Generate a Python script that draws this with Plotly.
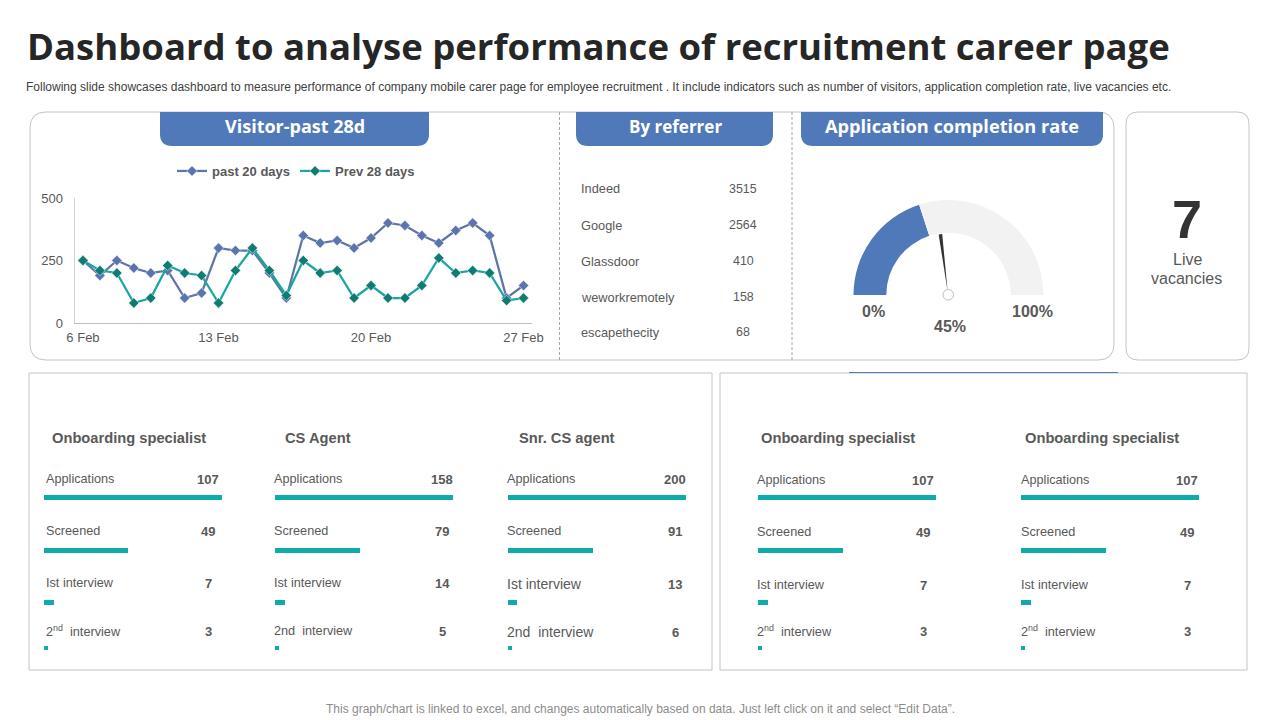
import plotly.graph_objects as go

# line chart data
day_index = list(range(27))
tick_index = [0, 8, 17, 26]
tick_labels = ["6 Feb", "13 Feb", "20 Feb", "27 Feb"]
past_days = [250, 190, 250, 220, 200, 210, 100, 120, 300, 290, 290, 200, 100, 350,
             320, 330, 300, 340, 400, 390, 350, 320, 370, 400, 350, 100, 150]
prev_days = [250, 210, 200, 80, 100, 230, 200, 190, 80, 210, 300, 210, 110, 250,
             200, 210, 100, 150, 100, 100, 150, 260, 200, 210, 200, 90, 100]

# referrers
referrers = ["Indeed", "Google", "Glassdoor", "weworkremotely", "escapethecity"]
referrer_counts = ["3515", "2564", "410", "158", "68"]

# gauge
gauge_fill = 40
gauge_needle = 45

# recruitment cards
card_titles = ["Onboarding specialist", "CS Agent", "Snr. CS agent",
               "Onboarding specialist", "Onboarding specialist"]
stage_labels = [
    ["Applications", "Screened", "Ist interview", "2<sup>nd</sup>  interview"],
    ["Applications", "Screened", "Ist interview", "2nd  interview"],
    ["Applications", "Screened", "Ist interview", "2nd  interview"],
    ["Applications", "Screened", "Ist interview", "2<sup>nd</sup>  interview"],
    ["Applications", "Screened", "Ist interview", "2<sup>nd</sup>  interview"],
]
stage_counts = [
    [107, 49, 7, 3],
    [158, 79, 14, 5],
    [200, 91, 13, 6],
    [107, 49, 7, 3],
    [107, 49, 7, 3],
]
# bar lengths as drawn in the picture, % of the Applications bar
bar_lengths = [
    [100, 47, 5.5, 2.2],
    [100, 47.5, 5.5, 2.5],
    [100, 47.5, 5, 2.5],
    [100, 47.5, 5.5, 2.2],
    [100, 47.5, 5.5, 2.2],
]

W, H = 1280, 720
FONT = "Liberation Sans"
GREY = "#595959"
BLUE = "#4F79B8"
TEAL = "#0FABAA"
BORDER = "#C4C4C4"


def px(x):
    return x / W


def py(y):
    return 1 - y / H


def pt(x, y):
    return f"{px(x):.5f},{py(y):.5f}"


def rounded_box(x0, y0, x1, y1, r):
    return (f"M{pt(x0 + r, y0)} L{pt(x1 - r, y0)} Q{pt(x1, y0)} {pt(x1, y0 + r)} "
            f"L{pt(x1, y1 - r)} Q{pt(x1, y1)} {pt(x1 - r, y1)} L{pt(x0 + r, y1)} "
            f"Q{pt(x0, y1)} {pt(x0, y1 - r)} L{pt(x0, y0 + r)} Q{pt(x0, y0)} {pt(x0 + r, y0)} Z")


def tab(x0, y0, x1, y1, r):
    return (f"M{pt(x0, y0)} L{pt(x1, y0)} L{pt(x1, y1 - r)} Q{pt(x1, y1)} {pt(x1 - r, y1)} "
            f"L{pt(x0 + r, y1)} Q{pt(x0, y1)} {pt(x0, y1 - r)} Z")


def label(x, y, text, size=12, color=GREY, bold=False, anchor="left", font=FONT):
    annotations.append(dict(
        x=px(x), y=py(y), xref="paper", yref="paper", text=f"<b>{text}</b>" if bold else text,
        showarrow=False, xanchor=anchor, yanchor="middle", align="center",
        borderpad=0, font=dict(family=font, size=size, color=color),
    ))


annotations = []
shapes = []
fig = go.Figure()

# panels
for box in [(30, 112, 1114, 360, 16), (1126, 112, 1249, 360, 12)]:
    shapes.append(dict(type="path", path=rounded_box(*box), xref="paper", yref="paper",
                       line=dict(color=BORDER, width=1), layer="below"))
for box in [(29, 373, 712, 670), (720, 373, 1247, 670)]:
    shapes.append(dict(type="rect", x0=px(box[0]), y0=py(box[1]), x1=px(box[2]), y1=py(box[3]),
                       xref="paper", yref="paper", line=dict(color=BORDER, width=1), layer="below"))
for x in [559.5, 792]:
    shapes.append(dict(type="line", x0=px(x), x1=px(x), y0=py(112), y1=py(360), xref="paper", yref="paper",
                       line=dict(color="#A6A6A6", width=1, dash="3px,2px"), layer="below"))
shapes.append(dict(type="line", x0=px(849), x1=px(1118), y0=py(372.5), y1=py(372.5), xref="paper", yref="paper",
                   line=dict(color=BLUE, width=1), layer="below"))

# header tabs
for x0, x1, text, cx, size in [(160, 429, "Visitor-past 28d", 294.5, 18),
                               (576, 773, "By referrer", 675, 17),
                               (801, 1103, "Application completion rate", 952, 18.2)]:
    shapes.append(dict(type="path", path=tab(x0, 112, x1, 146, 12), xref="paper", yref="paper",
                       fillcolor=BLUE, line=dict(width=0), layer="below"))
    label(cx, 126, text, size=size, color="white", bold=True, anchor="center", font="Open Sans")

# title block
label(26, 46, "Dashboard to analyse performance of recruitment career page", size=36.5,
      color="#262626", bold=True, font="Open Sans")
label(25, 87, "Following slide showcases dashboard to measure performance of company mobile carer page "
              "for employee recruitment . It include indicators such as number of visitors, application "
              "completion rate, live vacancies etc.", size=12, color="#404040")
label(640, 709, "This graph/chart is linked to excel, and changes automatically based on data. "
                "Just left click on it and select \u201cEdit Data\u201d.", size=12, color="#8C8C8C", anchor="center")

# visitors line chart
fig.add_trace(go.Scatter(
    x=day_index, y=past_days, mode="lines+markers", name="past 20 days",
    line=dict(color="#5F75A6", width=2.25),
    marker=dict(symbol="diamond", size=8, color="#5B74AE", line=dict(color="white", width=0.5)),
))
fig.add_trace(go.Scatter(
    x=day_index, y=prev_days, mode="lines+markers", name="Prev 28 days",
    line=dict(color="#1AA6A0", width=2.25),
    marker=dict(symbol="diamond", size=8, color="#0E7C72", line=dict(color="white", width=0.5)),
))

# referrer table
for name, count, y in zip(referrers, referrer_counts, [189, 225, 261, 297, 332]):
    label(580, y, name, size=12.8)
    label(743, y, count, size=12.4, anchor="center")

# gauge
fig.add_trace(go.Pie(
    values=[gauge_fill, 100 - gauge_fill, 100], sort=False, direction="clockwise", rotation=270,
    hole=0.655, textinfo="none", hoverinfo="skip", showlegend=False,
    marker=dict(colors=[BLUE, "#F2F2F2", "rgba(0,0,0,0)"], line=dict(width=0)),
    domain=dict(x=[px(853.5), px(1043.5)], y=[py(390), py(200)]),
))
shapes.append(dict(type="path", xref="paper", yref="paper", fillcolor="#333333", line=dict(width=0),
                   path=f"M{pt(947.7, 292)} L{pt(938.7, 234.5)} L{pt(942.2, 234)} Z"))
shapes.append(dict(type="circle", xref="paper", yref="paper", fillcolor="white",
                   line=dict(color="#BFBFBF", width=1),
                   x0=px(943), x1=px(953.5), y0=py(300), y1=py(289.5)))
label(873, 311, "0%", size=16, bold=True, anchor="center")
label(1032, 311, "100%", size=16, bold=True, anchor="center")
label(950, 326.5, f"{gauge_needle}%", size=16, bold=True, anchor="center")

# live vacancies
label(1187, 219, "7", size=54, color="#333333", bold=True, anchor="center")
label(1187, 259, "Live", size=16, anchor="center")
label(1186.5, 278, "vacancies", size=16, anchor="center")

# recruitment cards
bar_left = [44, 275, 508, 758, 1021]
title_x = [51, 284, 518, 760, 1024]
label_x = [45, 273, 506, 756, 1020]
value_x = [208, 442, 675, 923, 1187]
label_y = [[479, 531, 583, 631], [479, 531, 583, 631], [479, 531, 584, 632],
           [480, 532, 585, 631], [480, 532, 585, 631]]
bar_y = [497, 550, 602, 648]
bar_h = [5, 5, 5, 3.5]
layout_axes = {}

for i, title in enumerate(card_titles):
    n = i + 2
    fig.add_trace(go.Bar(
        x=bar_lengths[i], y=bar_y, width=bar_h, orientation="h", xaxis=f"x{n}", yaxis=f"y{n}",
        marker=dict(color=TEAL, line=dict(width=0)), showlegend=False, hoverinfo="skip",
    ))
    layout_axes[f"xaxis{n}"] = dict(domain=[px(bar_left[i]), px(bar_left[i] + 178)], range=[0, 100],
                                    visible=False, anchor=f"y{n}")
    layout_axes[f"yaxis{n}"] = dict(domain=[py(660), py(480)], range=[660, 480],
                                    visible=False, anchor=f"x{n}")
    label(title_x[i], 438, title, size=14.7, bold=True)
    for j in range(4):
        size = 14 if i == 2 and j >= 2 else 12.7
        label(label_x[i], label_y[i][j], stage_labels[i][j], size=size)
        label(value_x[i], label_y[i][j], stage_counts[i][j], size=13, bold=True, anchor="center")

fig.update_layout(
    width=W, height=H, margin=dict(l=0, r=0, t=0, b=0, autoexpand=False),
    paper_bgcolor="white", plot_bgcolor="rgba(0,0,0,0)",
    showlegend=True,
    legend=dict(orientation="h", x=px(172), y=py(171), xanchor="left", yanchor="middle",
                font=dict(family=FONT, size=13, color=GREY, weight="bold"),
                bgcolor="rgba(0,0,0,0)", itemwidth=30),
    xaxis=dict(domain=[px(74.5), px(532)], range=[-0.5, 26.5], tickmode="array",
               tickvals=tick_index, ticktext=tick_labels, showgrid=False, zeroline=False,
               showline=True, linecolor="#BFBFBF", ticks="", ticklabelstandoff=2,
               tickfont=dict(family=FONT, size=13, color=GREY)),
    yaxis=dict(domain=[py(323), py(198)], range=[0, 500], tickmode="array",
               tickvals=[0, 250, 500], showgrid=False, zeroline=False,
               showline=True, linecolor="#D0D0D0", ticks="", ticklabelstandoff=8,
               tickfont=dict(family=FONT, size=13, color=GREY)),
    annotations=annotations, shapes=shapes, bargap=0,
    **layout_axes,
)

fig.write_html("out.html", config={"displayModeBar": False},
               post_script="document.body.style.margin='0';")
